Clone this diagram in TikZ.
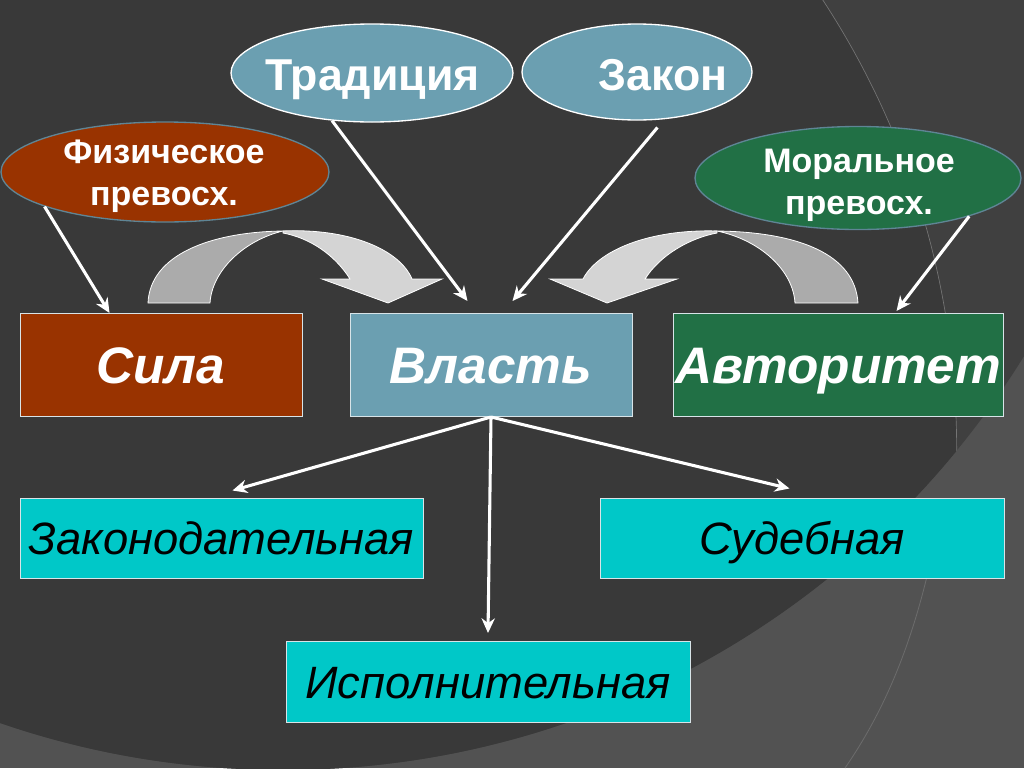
\documentclass[tikz,border=0pt]{standalone}
\usepackage{fontspec}
\setmainfont{Liberation Sans}
\usetikzlibrary{arrows.meta,calc,shapes.geometric}
\definecolor{bgdark}{HTML}{393939}
\definecolor{bgmid}{HTML}{404040}
\definecolor{bglight}{HTML}{525252}
\definecolor{brownred}{HTML}{993300}
\definecolor{steel}{HTML}{6B9FB1}
\definecolor{darkgreen}{HTML}{217045}
\definecolor{cyanbox}{HTML}{00C8C8}
\definecolor{ellline}{HTML}{5F8595}
\definecolor{boxline}{HTML}{D8E4E8}
\definecolor{arrlight}{HTML}{D4D4D4}
\definecolor{arrdark}{HTML}{ABABAB}
\newcommand{\pxu}{*0.75pt}
\begin{document}
\begin{tikzpicture}[x=0.75pt,y=-0.75pt,
  ell/.style={ellipse, inner sep=0pt, line width=1pt},
  elltext/.style={anchor=base, inner sep=0pt, align=center, text=white},
  bigtext/.style={elltext, font=\fontsize{33.5}{36}\selectfont\bfseries},
  smalltext/.style={elltext, font=\fontsize{25.5}{31}\selectfont\bfseries},
  mainbox/.style={rectangle, inner sep=0pt, draw=boxline, line width=0.75pt, text=white,
     text height=27.6pt, text depth=0pt,
     font=\fontsize{38.5}{44}\selectfont\bfseries\itshape},
  subbox/.style={rectangle, inner sep=0pt, draw=boxline, line width=0.75pt, fill=cyanbox, text=black,
     text height=24.3pt, text depth=0pt,
     font=\fontsize{34}{40}\selectfont\itshape},
  conn/.style={draw=white, line width=2.3pt, -{Stealth[length=11pt,width=10pt]}},
  curvearrow/.style={draw=white, line width=0.6pt}]
\useasboundingbox (0,0) rectangle (1024,768);
% background
\fill[bglight] (0,0) rectangle (1024,768);
\begin{scope}
  \clip (0,0) rectangle (1024,768);
  \fill[bgmid] (283,-100) circle[radius=652.5pt];
  \clip (283,-100) circle[radius=652.5pt];
  \fill[bgdark] (134,450) circle[radius=617pt];
  \draw[color=bglight!80!white, line width=0.5pt] (134,450) circle[radius=617pt];
\end{scope}
\draw[color=bglight!85!white, line width=0.6pt] (935,540) .. controls (915,640) and (885,710) .. (845,768);

% curved arrows
\fill[arrdark] (148,303) .. controls (150,255) and (210,232) .. (283,231) .. controls (245,240) and (212,270) .. (210,303) -- cycle;
\draw[curvearrow] (148,303) .. controls (150,255) and (210,232) .. (283,231) .. controls (245,240) and (212,270) .. (210,303) -- cycle;
\fill[arrlight] (283,231) .. controls (350,228) and (400,250) .. (412,279) -- (442,279) -- (388,303) -- (322,279) -- (350,279) .. controls (335,255) and (310,238) .. (283,233) -- cycle;
\draw[curvearrow] (283,231) .. controls (350,228) and (400,250) .. (412,279) -- (442,279) -- (388,303) -- (322,279) -- (350,279) .. controls (335,255) and (310,238) .. (283,233) -- cycle;

\fill[arrdark] (858,303) .. controls (855,255) and (800,232) .. (717,231) .. controls (760,240) and (793,270) .. (795,303) -- cycle;
\draw[curvearrow] (858,303) .. controls (855,255) and (800,232) .. (717,231) .. controls (760,240) and (793,270) .. (795,303) -- cycle;
\fill[arrlight] (717,231) .. controls (650,229) and (598,250) .. (583,279) -- (550,279) -- (607,303) -- (677,279) -- (645,279) .. controls (660,255) and (690,238) .. (717,233) -- cycle;
\draw[curvearrow] (717,231) .. controls (650,229) and (598,250) .. (583,279) -- (550,279) -- (607,303) -- (677,279) -- (645,279) .. controls (660,255) and (690,238) .. (717,233) -- cycle;

% ellipses
\node[ell, fill=steel, draw=white, minimum width=282\pxu, minimum height=98\pxu] (trad) at (372,73) {};
\node[bigtext] (tradtext) at (372.5,90) {Традиция};
\node[ell, fill=steel, draw=white, minimum width=230\pxu, minimum height=96\pxu] (zakon) at (637,72) {};
\node[bigtext] (zakontext) at (663,90) {Закон};
\node[ell, fill=brownred, draw=ellline, minimum width=328\pxu, minimum height=100\pxu] (fiz) at (165,172) {};
\node[smalltext] (fiztext) at (164,205) {Физическое\\превосх.};
\node[ell, fill=darkgreen, draw=ellline, minimum width=326\pxu, minimum height=103\pxu] (moral) at (858,178) {};
\node[smalltext] (moraltext) at (859,214) {Моральное\\превосх.};

% main boxes
\node[mainbox, fill=brownred, minimum width=282\pxu, minimum height=103\pxu] (sila) at (161,365) {Сила};
\node[mainbox, fill=steel, minimum width=282\pxu, minimum height=103\pxu] (vlast) at (491,365) {Власть};
\node[mainbox, fill=darkgreen, minimum width=330\pxu, minimum height=103\pxu] (avt) at (838,365) {Авторитет};

% branches
\node[subbox, minimum width=403\pxu, minimum height=80\pxu] (zak) at (221.5,538) {Законодательная};
\node[subbox, minimum width=404\pxu, minimum height=80\pxu] (sud) at (802,538) {Судебная};
\node[subbox, minimum width=404\pxu, minimum height=81\pxu] (isp) at (488,682) {Исполнительная};

% connectors
\draw[conn] (fiz.196.7) -- ($(sila.north west)+(90,0)$);
\draw[conn] (trad.230) -- ($(vlast.north west)+(118,-12)$);
\draw[conn, shorten <=8pt] (zakon.300) -- ($(vlast.north west)+(163,-12)$);
\draw[conn] (moral.341.7) -- ($(avt.north west)+(224,-2)$);
\draw[conn] (vlast.south) -- ($(zak.north west)+(213,-7)$);
\draw[conn] (vlast.south) -- ($(sud.north west)+(190,-9)$);
\draw[conn] (vlast.south) -- ($(isp.north)+(0,-8)$);
\end{tikzpicture}
\end{document}
